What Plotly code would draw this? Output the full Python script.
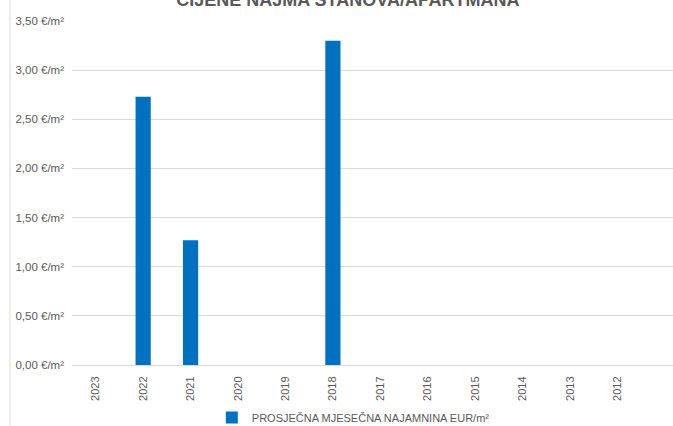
import plotly.graph_objects as go

# Years on the category axis (newest first, as in the source sheet)
years = ["2023", "2022", "2021", "2020", "2019", "2018",
         "2017", "2016", "2015", "2014", "2013", "2012"]
# Average monthly rent, EUR per m2 (blank years have no data)
rent = [None, 2.73, 1.27, None, None, 3.30,
        None, None, None, None, None, None]

font_family = "Liberation Sans Narrow, Liberation Sans, sans-serif"
grey = "#595959"

fig = go.Figure()
fig.add_trace(go.Bar(
    name="PROSJEČNA MJESEČNA NAJAMNINA EUR/m²",
    x=years,
    y=rent,
    marker_color="#0070C0",
    marker_line_width=0,
))

fig.update_layout(
    width=673,
    height=426,
    margin=dict(l=72, r=0, t=21, b=61, autoexpand=False),
    paper_bgcolor="white",
    plot_bgcolor="white",
    separators=",.",
    bargap=0.68,
    font=dict(family=font_family, size=11, color=grey),
    title=dict(
        text="<b>CIJENE NAJMA STANOVA/APARTMANA</b>",
        x=0.517, xanchor="center",
        y=1.0, yanchor="middle", yref="container",
        automargin=False,
        font=dict(size=18, color=grey, family=font_family),
    ),
    showlegend=True,
    legend=dict(
        orientation="h",
        xref="container", yref="container",
        x=0.525, xanchor="center",
        y=0.02, yanchor="middle",
        font=dict(size=11, color=grey),
    ),
    xaxis=dict(
        type="category",
        range=[-0.5, 12.17],
        tickangle=-90,
        automargin=False,
        showgrid=False,
        showline=True,
        linecolor="#D9D9D9",
        ticks="",
        ticklabelstandoff=6,
        tickfont=dict(size=11, color=grey),
    ),
    yaxis=dict(
        range=[0, 3.5],
        dtick=0.5,
        tickformat=".2f",
        ticksuffix=" €/m²",
        automargin=False,
        showgrid=True,
        gridcolor="#D9D9D9",
        zeroline=False,
        ticks="",
        ticklabelstandoff=7,
        tickfont=dict(size=11.5, color=grey),
    ),
    shapes=[dict(
        type="line", xref="paper", yref="paper",
        x0=-62 / 601, x1=-62 / 601, y0=-61 / 344, y1=21 / 344 + 1,
        line=dict(color="#D9D9D9", width=1),
    )],
)

# drop the default page margin so the figure sits at the window's corner
fig.write_html("out.html", config={"displayModeBar": False},
               post_script="document.body.style.margin='0';")
